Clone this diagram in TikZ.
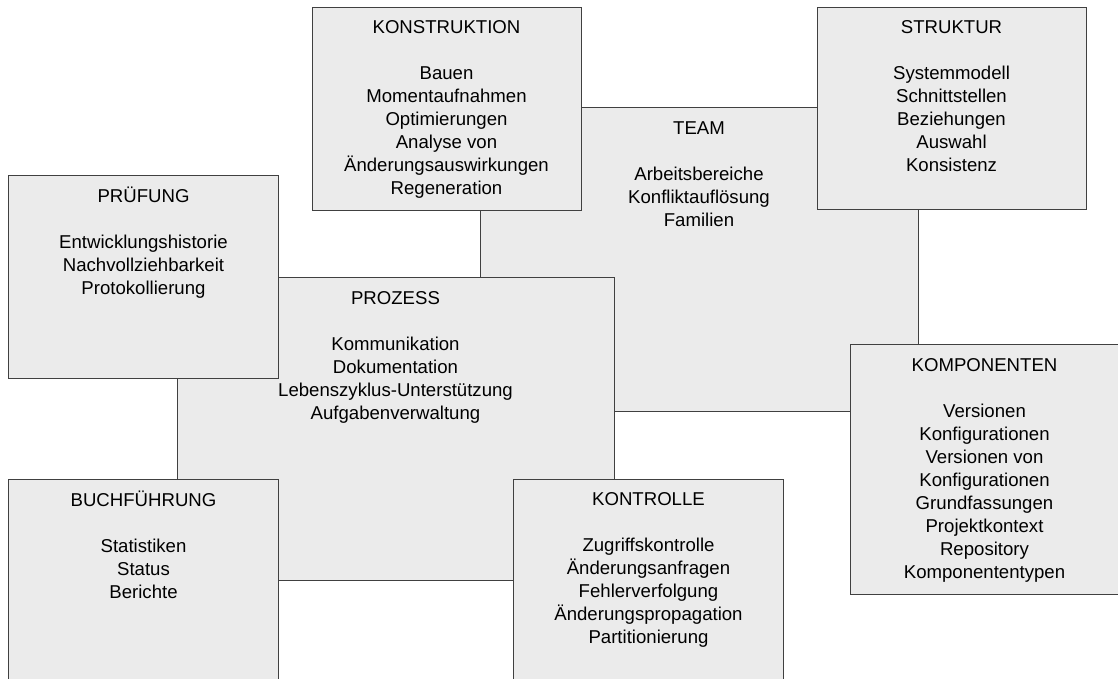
\documentclass[tikz,border=0pt]{standalone}
\usepackage{fontspec}
\setmainfont{Liberation Sans}
\definecolor{boxfill}{RGB}{235,235,235}
\definecolor{bordercol}{RGB}{64,64,64}
\newcommand\tstrut{\rule{0pt}{18pt}}
\begin{document}
\begin{tikzpicture}[x=1pt,y=-1pt,
  box/.style={draw=bordercol, fill=boxfill, line width=1pt, inner sep=0pt, outer sep=0pt, anchor=north west},
  txt/.style={anchor=north, align=center, inner sep=0pt, outer sep=0pt, font=\fontsize{18.6}{23}\selectfont}]
\useasboundingbox (0,0) rectangle (1118,679);
\clip (0,0) rectangle (1118,679);
% TEAM
\node[box, minimum width=438pt, minimum height=303pt] (team) at (480,108) {};
\node[txt] (teamt) at (699,116.65) {\tstrut TEAM\\[23pt]Arbeitsbereiche\\Konfliktauflösung\\Familien};
% PROZESS
\node[box, minimum width=437pt, minimum height=302.5pt] (proz) at (177,277.5) {};
\node[txt] (prozt) at (395.5,286.15) {\tstrut PROZESS\\[23pt]Kommunikation\\Dokumentation\\Lebenszyklus-Unterstützung\\Aufgabenverwaltung};
% KONSTRUKTION
\node[box, minimum width=269pt, minimum height=202.7pt] (kons) at (312,7.3) {};
\node[txt] (konst) at (446.5,15.95) {\tstrut KONSTRUKTION\\[23pt]Bauen\\Momentaufnahmen\\Optimierungen\\Analyse von\\Änderungsauswirkungen\\Regeneration};
% STRUKTUR
\node[box, minimum width=269pt, minimum height=202.2pt] (stru) at (817,7.3) {};
\node[txt] (strut) at (951.5,15.95) {\tstrut STRUKTUR\\[23pt]Systemmodell\\Schnittstellen\\Beziehungen\\Auswahl\\Konsistenz};
% KOMPONENTEN
\node[box, minimum width=268pt, minimum height=249.5pt] (komp) at (850.5,344.5) {};
\node[txt] (kompt) at (984.5,353.15) {\tstrut KOMPONENTEN\\[23pt]Versionen\\Konfigurationen\\Versionen von\\Konfigurationen\\Grundfassungen\\Projektkontext\\Repository\\Komponententypen};
% PRUEFUNG
\node[box, minimum width=270pt, minimum height=202.5pt] (pruef) at (8.5,176) {};
\node[txt] (prueft) at (143.5,184.65) {\tstrut PRÜFUNG\\[23pt]Entwicklungshistorie\\Nachvollziehbarkeit\\Protokollierung};
% BUCHFUEHRUNG
\node[box, minimum width=270pt, minimum height=210pt] (buch) at (8.5,479.5) {};
\node[txt] (bucht) at (143.5,488.15) {\tstrut BUCHFÜHRUNG\\[23pt]Statistiken\\Status\\Berichte};
% KONTROLLE
\node[box, minimum width=270pt, minimum height=210pt] (kont) at (513.5,479) {};
\node[txt] (kontt) at (648.5,487.65) {\tstrut KONTROLLE\\[23pt]Zugriffskontrolle\\Änderungsanfragen\\Fehlerverfolgung\\Änderungspropagation\\Partitionierung};
\end{tikzpicture}
\end{document}
